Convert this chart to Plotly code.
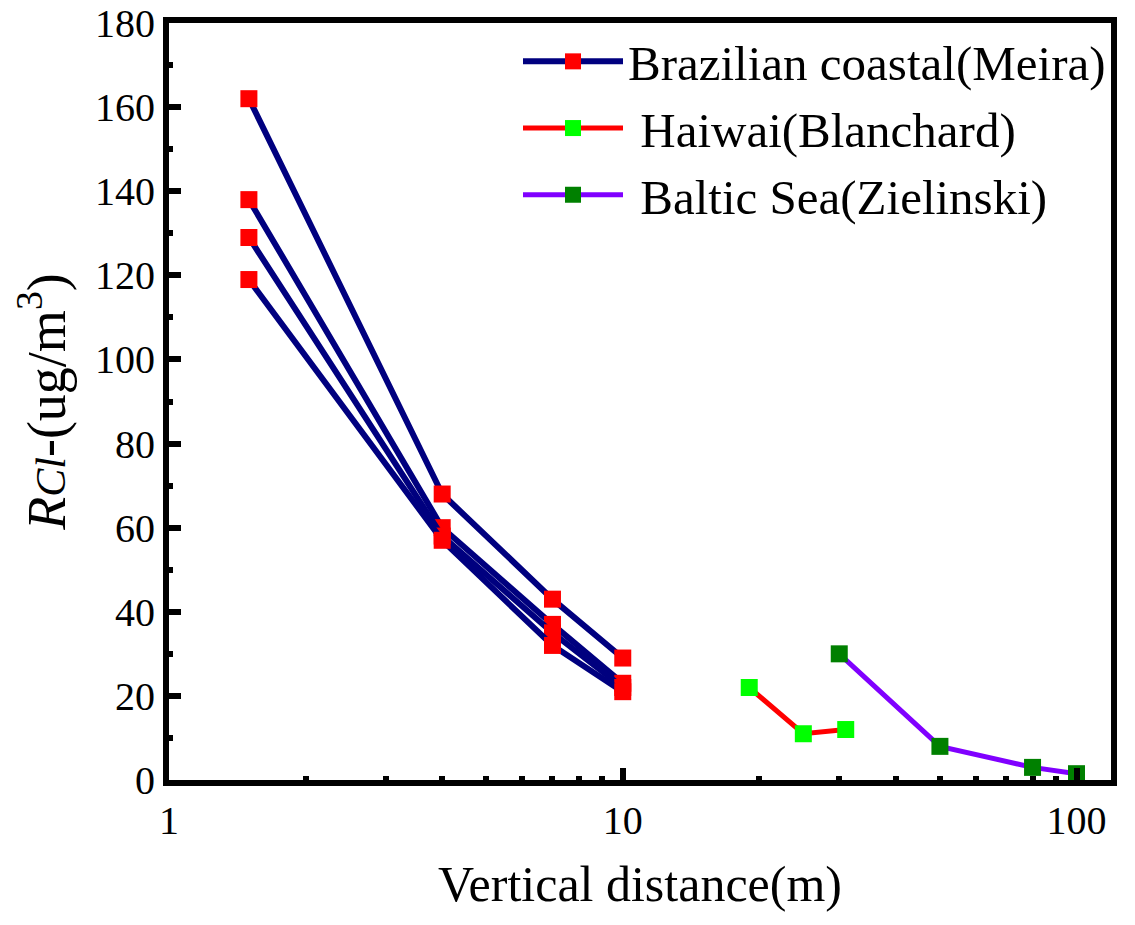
import plotly.graph_objects as go

# ---- data ----
braz_x = [1.5, 4, 7, 10]
braz_lines = [
    [162, 68, 43, 29],
    [138, 60, 37, 23],
    [129, 58, 35, 22],
    [119, 57, 32, 21],
]
haiwai_x = [19, 25, 31]
haiwai_y = [22, 11, 12]
baltic_x = [30, 50, 80, 100]
baltic_y = [30, 8, 3, 1.5]

x_tickvals = [1, 10, 100]
x_ticktext = ["1", "10", "100"]
y_tickvals = [0, 20, 40, 60, 80, 100, 120, 140, 160, 180]

FONT = "Liberation Serif"
NAVY = "#00007F"
fig = go.Figure()

for i, ys in enumerate(braz_lines):
    fig.add_trace(go.Scatter(
        x=braz_x, y=ys, mode="lines+markers",
        name="Brazilian coastal(Meira)", legendgroup="braz", showlegend=(i == 0),
        line=dict(color=NAVY, width=6),
        marker=dict(symbol="square", size=17, color="#FF0000"),
    ))

fig.add_trace(go.Scatter(
    x=haiwai_x, y=haiwai_y, mode="lines+markers", name="\u00a0Haiwai(Blanchard)",
    line=dict(color="#FF0000", width=5),
    marker=dict(symbol="square", size=17, color="#00FF00"),
))
fig.add_trace(go.Scatter(
    x=baltic_x, y=baltic_y, mode="lines+markers", name="\u00a0Baltic Sea(Zielinski)",
    line=dict(color="#8000FF", width=5),
    marker=dict(symbol="square", size=17, color="#008000"),
))

axis_common = dict(
    showline=True, linecolor="black", linewidth=6, mirror=True,
    ticks="inside", ticklen=12, tickwidth=6, tickcolor="black",
    showgrid=False, zeroline=False, automargin=False,
    ticklabeloverflow="allow",
    tickfont=dict(family=FONT, size=40, color="black"),
)

fig.update_xaxes(
    type="log", range=[0, 2.076],
    tickvals=x_tickvals, ticktext=x_ticktext,
    minor=dict(ticks="inside", ticklen=4, tickwidth=6, tickcolor="black", dtick="D1"),
    title=dict(text="Vertical distance(m)", font=dict(family=FONT, size=50, color="black"), standoff=26),
    **axis_common,
)
fig.update_yaxes(
    range=[0, 180], tickvals=y_tickvals,
    minor=dict(ticks="inside", ticklen=4, tickwidth=6, tickcolor="black", dtick=10),
    title=dict(text="<i>R<span style='font-size:42px'>Cl</span>-</i>(ug/m<sup>3</sup>)",
               font=dict(family=FONT, size=54, color="black"), standoff=22),
    **axis_common,
)

fig.update_layout(
    width=1119, height=909,
    margin=dict(l=161, r=16, t=15, b=137),
    plot_bgcolor="white", paper_bgcolor="white",
    font=dict(family=FONT, color="black"),
    legend=dict(
        x=1.0, y=1.0, xanchor="right", yanchor="top",
        bgcolor="rgba(0,0,0,0)", borderwidth=0,
        font=dict(family=FONT, size=49, color="black"),
        itemwidth=100, tracegroupgap=0,
    ),
)

fig.write_html("out.html")
